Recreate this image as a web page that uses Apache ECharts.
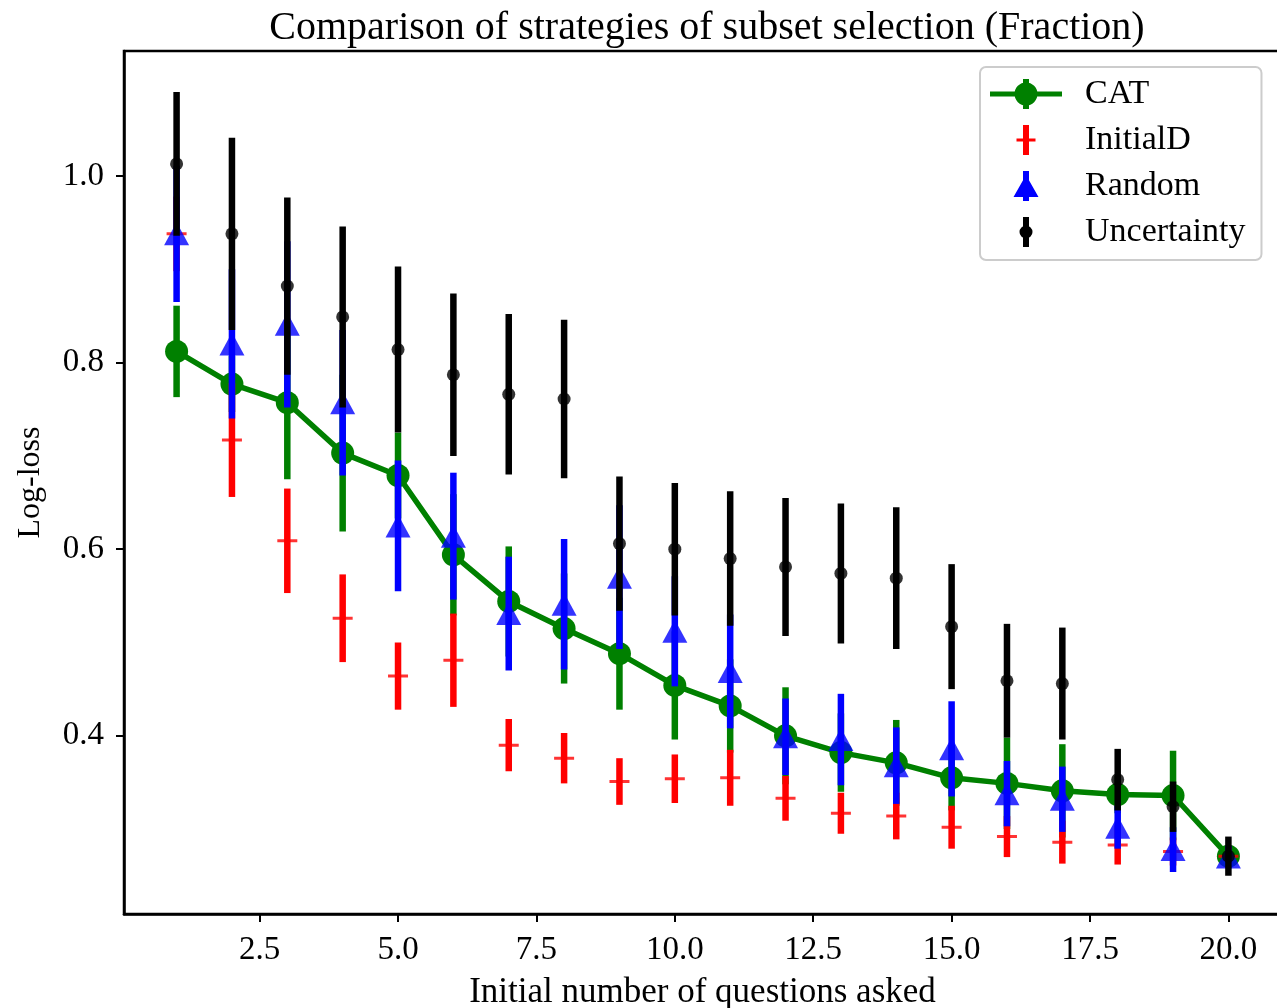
<!DOCTYPE html>
<html>
<head>
<meta charset="utf-8">
<title>Comparison of strategies of subset selection</title>
<script src="https://cdn.jsdelivr.net/npm/echarts@6/dist/echarts.min.js"></script>
<style>
  html, body { margin: 0; padding: 0; background: #fff; }
  #chart { width: 1277px; height: 1008px; }
</style>
</head>
<body>
<div id="chart"></div>
<script>
// number of initial questions
const questions = [1, 2, 3, 4, 5, 6, 7, 8, 9, 10, 11, 12, 13, 14, 15, 16, 17, 18, 19, 20];

// CAT
const catMean = [0.812, 0.777, 0.757, 0.703, 0.679, 0.594, 0.544, 0.515, 0.488, 0.454,
                 0.432, 0.400, 0.382, 0.371, 0.355, 0.349, 0.341, 0.337, 0.336, 0.271];
const catErr = [0.049, 0.030, 0.082, 0.084, 0.046, 0.065, 0.059, 0.059, 0.060, 0.058,
                0.050, 0.052, 0.042, 0.046, 0.035, 0.049, 0.050, 0.020, 0.048, 0.010];

// InitialD
const initMean = [0.938, 0.717, 0.609, 0.526, 0.464, 0.481, 0.390, 0.376, 0.351, 0.354,
                  0.355, 0.333, 0.317, 0.314, 0.302, 0.292, 0.286, 0.283, 0.276, 0.271];
const initErr = [0.040, 0.061, 0.056, 0.047, 0.036, 0.050, 0.028, 0.027, 0.025, 0.026,
                 0.030, 0.024, 0.022, 0.025, 0.023, 0.022, 0.023, 0.021, 0.015, 0.010];

// Random
const randMean = [0.938, 0.820, 0.841, 0.757, 0.625, 0.614, 0.531, 0.541, 0.570, 0.512,
                  0.469, 0.399, 0.396, 0.368, 0.386, 0.338, 0.332, 0.302, 0.278, 0.270];
const randErr = [0.073, 0.080, 0.089, 0.078, 0.070, 0.068, 0.061, 0.070, 0.077, 0.059,
                 0.061, 0.041, 0.049, 0.041, 0.051, 0.035, 0.035, 0.023, 0.024, 0.012];

// Uncertainty
const uncMean = [1.013, 0.938, 0.882, 0.849, 0.814, 0.787, 0.766, 0.761, 0.606, 0.600,
                 0.590, 0.581, 0.574, 0.569, 0.517, 0.459, 0.456, 0.353, 0.324, 0.271];
const uncErr = [0.077, 0.103, 0.095, 0.097, 0.089, 0.087, 0.086, 0.085, 0.072, 0.071,
                0.072, 0.074, 0.075, 0.076, 0.067, 0.061, 0.060, 0.033, 0.027, 0.021];

const xTicks = [2.5, 5.0, 7.5, 10.0, 12.5, 15.0, 17.5, 20.0];
const yTicks = [0.4, 0.6, 0.8, 1.0];

const FONT = '"Liberation Serif", "DejaVu Serif", serif';

function points(means) {
    return questions.map((q, i) => [q, means[i]]);
}

function bars(means, errs) {
    return questions.map((q, i) => [q, means[i] - errs[i], means[i] + errs[i]]);
}

function errorBars(color) {
    return function (params, api) {
        const x = api.value(0);
        const lo = api.coord([x, api.value(1)]);
        const hi = api.coord([x, api.value(2)]);
        return {
            type: 'line',
            shape: { x1: lo[0], y1: lo[1], x2: hi[0], y2: hi[1] },
            style: { stroke: color, lineWidth: 6.5, lineCap: 'butt' }
        };
    };
}

// legend icons, all 72 x 32 (two specks fix the box)
const box = 'M0,0 L0.05,0 L0,0.05 Z M72,32 L71.95,32 L72,31.95 Z ';
const iconCat = box + 'M0,13.5 H72 V18.5 H0 Z M33,1 H39 V31 H33 Z ' +
    'M24.5,16 A11.5,11.5 0 1,1 47.5,16 A11.5,11.5 0 1,1 24.5,16 Z';
const iconInit = box + 'M33,1 H39 V31 H33 Z M26.5,14.5 H45.5 V17.5 H26.5 Z';
const iconRand = box + 'M33,1 H39 V31 H33 Z M36,5 L48.5,27 L23.5,27 Z';
const iconUnc = box + 'M33,1 H39 V31 H33 Z ' +
    'M29.5,16 A6.5,6.5 0 1,1 42.5,16 A6.5,6.5 0 1,1 29.5,16 Z';
const plusSymbol = 'path://M0,8.5 H20 V11.5 H0 Z M8.5,0 H11.5 V20 H8.5 Z';

const chart = echarts.init(document.getElementById('chart'));

chart.setOption({
    animation: false,
    backgroundColor: '#fff',
    title: {
        text: 'Comparison of strategies of subset selection (Fraction)',
        left: 702,
        top: 3,
        textAlign: 'center',
        textStyle: { fontFamily: FONT, fontSize: 40, fontWeight: 'normal', color: '#000' }
    },
    legend: {
        orient: 'vertical',
        left: 980,
        top: 67,
        itemWidth: 72,
        itemHeight: 32,
        itemGap: 12,
        padding: [10, 16, 11, 10],
        borderColor: '#cccccc',
        borderWidth: 2,
        borderRadius: 6,
        backgroundColor: '#fff',
        selectedMode: false,
        textStyle: { fontFamily: FONT, fontSize: 34, lineHeight: 32, color: '#000', padding: [0, 0, 0, 18] },
        data: [
            { name: 'CAT', icon: 'path://' + iconCat },
            { name: 'InitialD', icon: 'path://' + iconInit },
            { name: 'Random', icon: 'path://' + iconRand },
            { name: 'Uncertainty', icon: 'path://' + iconUnc }
        ]
    },
    grid: {
        left: 124,
        right: -4,
        top: 51,
        bottom: 94,
        containLabel: false,
        outerBoundsMode: 'none',
        show: true,
        borderColor: '#000',
        borderWidth: 2.5,
        backgroundColor: 'transparent'
    },
    xAxis: {
        type: 'value',
        min: 0.05,
        max: 20.95,
        name: 'Initial number of questions asked',
        nameLocation: 'middle',
        nameGap: 61,
        nameTextStyle: { fontFamily: FONT, fontSize: 35, color: '#000' },
        axisLine: { show: true, lineStyle: { color: '#000', width: 2.5 } },
        axisTick: { show: true, inside: false, length: 8, lineStyle: { color: '#000', width: 2 }, customValues: xTicks },
        axisLabel: {
            fontFamily: FONT, fontSize: 33, color: '#000', margin: 20,
            customValues: xTicks,
            formatter: (v) => Number(v).toFixed(1)
        },
        splitLine: { show: false }
    },
    yAxis: {
        type: 'value',
        min: 0.209,
        max: 1.134,
        name: 'Log-loss',
        nameLocation: 'middle',
        nameGap: 77,
        nameRotate: 90,
        nameTextStyle: { fontFamily: FONT, fontSize: 32, color: '#000' },
        axisLine: { show: true, lineStyle: { color: '#000', width: 2.5 } },
        axisTick: { show: true, inside: false, length: 8, lineStyle: { color: '#000', width: 2 }, customValues: yTicks },
        axisLabel: {
            fontFamily: FONT, fontSize: 33, color: '#000', margin: 20,
            customValues: yTicks,
            formatter: (v) => Number(v).toFixed(1)
        },
        splitLine: { show: false }
    },
    series: [
        {
            name: 'CAT', type: 'custom', z: 1, silent: true,
            renderItem: errorBars('#008000'), data: bars(catMean, catErr),
            encode: { x: 0, y: [1, 2] }, itemStyle: { color: '#008000' }
        },
        {
            name: 'CAT', type: 'line', z: 2, silent: true,
            data: points(catMean),
            symbol: 'circle', symbolSize: 23,
            itemStyle: { color: '#008000' },
            lineStyle: { color: '#008000', width: 5.5 }
        },
        {
            name: 'InitialD', type: 'custom', z: 3, silent: true,
            renderItem: errorBars('#ff0000'), data: bars(initMean, initErr),
            encode: { x: 0, y: [1, 2] }, itemStyle: { color: '#ff0000' }
        },
        {
            name: 'InitialD', type: 'scatter', z: 4, silent: true,
            data: points(initMean),
            symbol: plusSymbol, symbolSize: 20,
            itemStyle: { color: '#ff0000' }
        },
        {
            name: 'Random', type: 'custom', z: 5, silent: true,
            renderItem: errorBars('#0000ff'), data: bars(randMean, randErr),
            encode: { x: 0, y: [1, 2] }, itemStyle: { color: '#0000ff' }
        },
        {
            name: 'Random', type: 'scatter', z: 6, silent: true,
            data: points(randMean),
            symbol: 'triangle', symbolSize: [25, 23],
            itemStyle: { color: '#0000ff' }
        },
        {
            name: 'Uncertainty', type: 'custom', z: 7, silent: true,
            renderItem: errorBars('#000000'), data: bars(uncMean, uncErr),
            encode: { x: 0, y: [1, 2] }, itemStyle: { color: '#000000' }
        },
        {
            name: 'Uncertainty', type: 'scatter', z: 8, silent: true,
            data: points(uncMean),
            symbol: 'circle', symbolSize: 13,
            itemStyle: { color: '#000000' }
        }
    ]
});
</script>
</body>
</html>
